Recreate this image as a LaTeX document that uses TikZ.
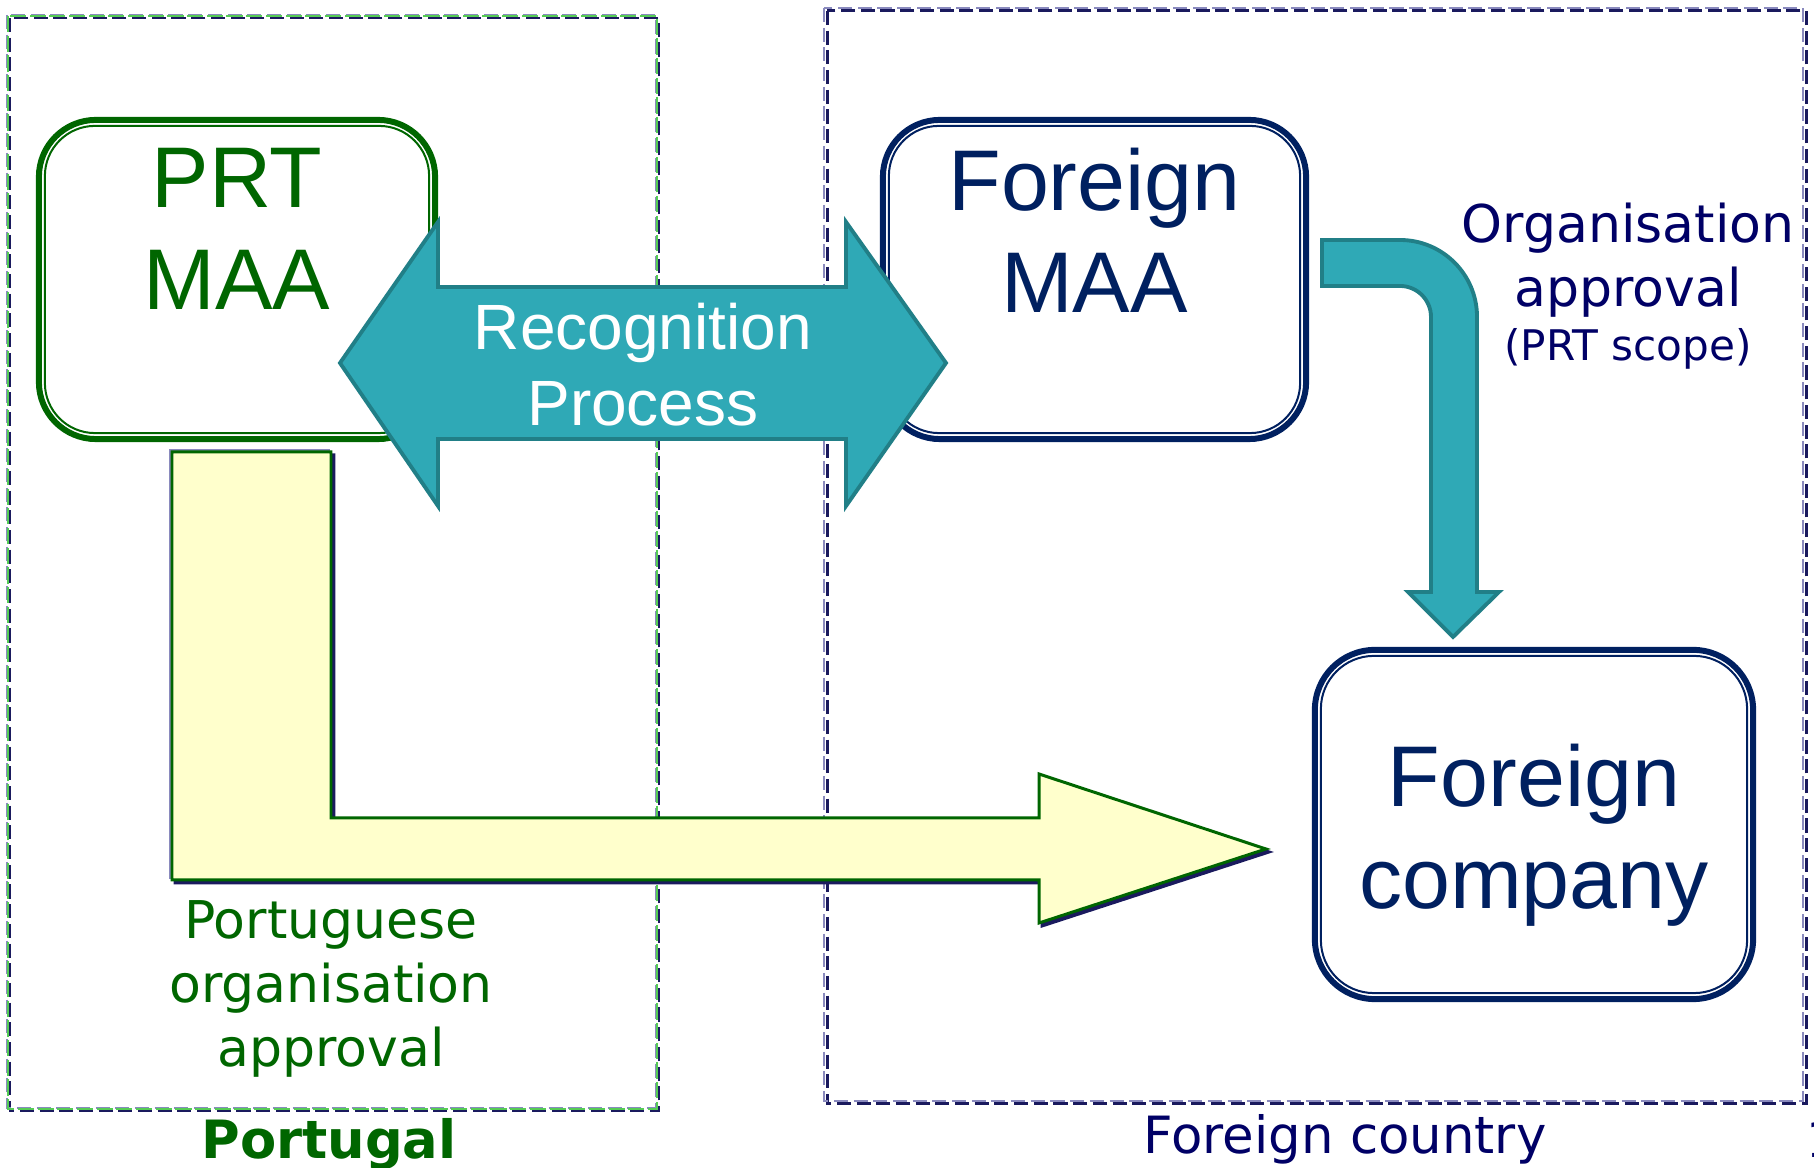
\documentclass[tikz,border=0pt]{standalone}
\usepackage{fontspec}
\setmainfont{DejaVu Sans}
\newfontfamily\arialfont{Liberation Sans}
\usetikzlibrary{positioning,calc}

\definecolor{prtgreen}{HTML}{006600}
\definecolor{fornavy}{HTML}{002060}
\definecolor{txtnavy}{HTML}{000066}
\definecolor{tealfill}{HTML}{2FA9B6}
\definecolor{tealline}{HTML}{217F87}
\definecolor{paleyellow}{HTML}{FFFFCC}
\definecolor{boxlav}{HTML}{8A8ABE}
\definecolor{boxgreen}{HTML}{55CC55}
\definecolor{shadownavy}{HTML}{1A1A5E}

\begin{document}
\begin{tikzpicture}[x=0.01cm,y=-0.01cm,inner sep=0pt,outer sep=0pt]
  \tikzstyle{maabox}=[draw,line width=1.7pt,rounded corners=0.57cm,fill=white]
  \tikzstyle{innerline}=[line width=0.57pt,rounded corners=0.5cm]
  \tikzstyle{bigtext}=[font=\arialfont\fontsize{24.5}{29}\selectfont,align=center,anchor=north]
  \tikzstyle{smalltext}=[font=\fontsize{14.8}{18.2}\selectfont,align=center]
  \tikzstyle{tealarrow}=[fill=tealfill,draw=tealline,line width=1.1pt]
  \tikzstyle{yellowarrow}=[fill=paleyellow,draw=prtgreen,line width=0.85pt]
  \tikzstyle{border}=[line width=0.7pt,dash pattern=on 4pt off 1.6pt]
\useasboundingbox (0,0) rectangle (1814,1168);

% the two countries
\draw[border,shadownavy,shift={(3,3)}] (7,15) rectangle (656,1108);
\draw[border,boxlav] (7,15) rectangle (656,1108);
\draw[boxgreen,line width=0.3pt,dash pattern=on 4.6pt off 1pt] (8,16) rectangle (657,1109);
\draw[border,shadownavy,line width=0.85pt,shift={(3,3)}] (824,8) rectangle (1803,1101);
\draw[border,boxlav] (824,8) rectangle (1803,1101);

% authorities and company
\node[maabox,draw=prtgreen,minimum width=3.96cm,minimum height=3.19cm] (prt) at (237,279.5) {};
\draw[innerline,prtgreen] ($(prt.south west)+(6,-6)$) rectangle ($(prt.north east)+(-6,6)$);
\node[maabox,draw=fornavy,minimum width=4.23cm,minimum height=3.19cm] (formaa) at (1094.5,279.5) {};
\draw[innerline,fornavy] ($(formaa.south west)+(6,-6)$) rectangle ($(formaa.north east)+(-6,6)$);
\node[maabox,draw=fornavy,rounded corners=0.6cm,minimum width=4.38cm,minimum height=3.49cm] (company) at (1534,824.5) {};
\draw[innerline,fornavy,rounded corners=0.53cm] ($(company.south west)+(6,-6)$) rectangle ($(company.north east)+(-6,6)$);

% Portuguese approval arrow
\draw[fill=shadownavy,draw=shadownavy,line width=0.85pt,shift={(3,3)}]
  (172,452) -- (331,452) -- (331,818) -- (1039,818) -- (1039,774) -- (1266,849)
  -- (1039,923) -- (1039,880) -- (172,880) -- cycle;
\draw[boxlav,line width=1.4pt,shift={(-1,-1)}]
  (172,880) -- (172,452) -- (331,452);
\draw[yellowarrow]
  (172,452) -- (331,452) -- (331,818) -- (1039,818) -- (1039,774) -- (1266,849)
  -- (1039,923) -- (1039,880) -- (172,880) -- cycle;

% recognition arrow
\draw[tealarrow] (340,363) -- (438,222) -- (438,287) -- (846,287) -- (846,222) -- (946,363)
  -- (846,506) -- (846,439) -- (438,439) -- (438,506) -- cycle;

% organisation approval arrow
\draw[tealarrow] (1322,240) -- (1400,240) arc[start angle=90,end angle=0,radius=0.77cm]
  -- (1477,592) -- (1499,592) -- (1453,637) -- (1408,592) -- (1431,592) -- (1431,317)
  arc[start angle=0,end angle=90,radius=0.31cm] -- (1322,286) -- cycle;

% texts
\node[bigtext,text=prtgreen,below=0.28cm] (prtname) at (prt.north) {PRT\\MAA};
\node[bigtext,text=fornavy,below=0.28cm] (formaaname) at (formaa.north) {Foreign\\MAA};
\node[bigtext,text=fornavy,below=0.94cm] (companyname) at (company.north) {Foreign\\company};
\node[font=\arialfont\fontsize{18.2}{21.6}\selectfont,align=center,anchor=north,text=white]
  (recog) at (643,303) {Recognition\\Process};
\node[smalltext,text=txtnavy,anchor=north] (orgappr) at (1628,203) {Organisation\\approval};
\node[font=\fontsize{12}{14}\selectfont,text=txtnavy,anchor=base] (scope) at (1628,361) {(PRT scope)};
\node[smalltext,text=prtgreen,anchor=north] (prtappr) at (331,901) {Portuguese\\organisation\\approval};
\node[font=\bfseries\fontsize{15}{18}\selectfont,text=prtgreen,anchor=base] (portugal) at (329,1159) {Portugal};
\node[font=\fontsize{14.6}{17}\selectfont,text=txtnavy,anchor=base] (foreign) at (1345,1154) {Foreign country};
\node[font=\fontsize{14}{17}\selectfont,text=txtnavy,anchor=base west] (pageno) at (1806,1158) {1};
\end{tikzpicture}
\end{document}
